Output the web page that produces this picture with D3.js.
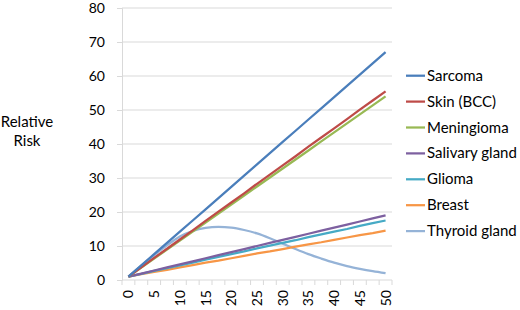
<!DOCTYPE html>
<html>
<head>
<meta charset="utf-8">
<script src="https://cdn.jsdelivr.net/npm/d3@7"></script>
<style>
  body { margin: 0; background: #fff; }
  text { font-family: Lato, "Open Sans", sans-serif; fill: #000; }
</style>
</head>
<body>
<script>
var w = 520;
var h = 310;

// x categories (every 2.5), labels shown every 5
var years = ["0","2.5","5","7.5","10","12.5","15","17.5","20","22.5","25","27.5","30","32.5","35","37.5","40","42.5","45","47.5","50"];
var xLabels = ["0","5","10","15","20","25","30","35","40","45","50"];
var yTicks = [0, 10, 20, 30, 40, 50, 60, 70, 80];

var names = ["Sarcoma", "Skin (BCC)", "Meningioma", "Salivary gland", "Glioma", "Breast", "Thyroid gland"];
var colors = ["#4a7ebb", "#be4b48", "#98b954", "#7d60a0", "#46aac5", "#f79646", "#95b3d7"];

var sarcoma = [1, 4.3, 7.6, 10.9, 14.2, 17.5, 20.8, 24.1, 27.4, 30.7, 34, 37.3, 40.6, 43.9, 47.2, 50.5, 53.8, 57.1, 60.4, 63.7, 67];
var skin = [1, 3.7, 6.5, 9.2, 11.9, 14.6, 17.4, 20.1, 22.8, 25.5, 28.3, 31, 33.7, 36.4, 39.2, 41.9, 44.6, 47.3, 50.1, 52.8, 55.5];
var meningioma = [1, 3.65, 6.3, 8.95, 11.6, 14.25, 16.9, 19.55, 22.2, 24.85, 27.5, 30.15, 32.8, 35.45, 38.1, 40.75, 43.4, 46.05, 48.7, 51.35, 54];
var salivary = [1, 1.9, 2.8, 3.7, 4.6, 5.5, 6.4, 7.3, 8.2, 9.1, 10, 10.9, 11.8, 12.7, 13.6, 14.5, 15.4, 16.3, 17.2, 18.1, 19];
var glioma = [1, 1.8, 2.7, 3.5, 4.3, 5.1, 6, 6.8, 7.6, 8.4, 9.3, 10.1, 10.9, 11.7, 12.6, 13.4, 14.2, 15, 15.9, 16.7, 17.5];
var breast = [1, 1.7, 2.4, 3, 3.7, 4.4, 5.1, 5.7, 6.4, 7.1, 7.8, 8.4, 9.1, 9.8, 10.5, 11.1, 11.8, 12.5, 13.2, 13.8, 14.5];
var thyroid = [1, 4.2, 7.3, 10.2, 12.8, 14.4, 15.3, 15.6, 15.4, 14.7, 13.7, 12.3, 10.7, 9.1, 7.6, 6.3, 5.1, 4.1, 3.3, 2.6, 2.0];

var series = [sarcoma, skin, meningioma, salivary, glioma, breast, thyroid];

var pLeft = 122, pRight = 392, pTop = 8, pBottom = 280;

var svg = d3.select("body").append("svg")
  .attr("width", w)
  .attr("height", h);

var xScale = d3.scaleBand()
  .domain(years)
  .range([pLeft, pRight]);

var yScale = d3.scaleLinear()
  .domain([0, 80])
  .range([pBottom, pTop]);

var cx = function(d) { return xScale(d) + xScale.bandwidth() / 2; };

// gridlines
svg.append("g")
  .selectAll("line")
  .data(yTicks.slice(1))
  .enter().append("line")
    .attr("x1", pLeft)
    .attr("x2", pRight)
    .attr("y1", function(d) { return yScale(d); })
    .attr("y2", function(d) { return yScale(d); })
    .style("stroke", "#d9d9d9")
    .style("stroke-width", 1);

// y axis
var yAxis = d3.axisLeft(yScale)
  .tickValues(yTicks)
  .tickSize(5)
  .tickPadding(12);

var gy = svg.append("g")
  .attr("transform", "translate(" + pLeft + ",0)")
  .call(yAxis);
gy.select(".domain").attr("stroke", "#d9d9d9");
gy.selectAll(".tick line").attr("stroke", "#d9d9d9");
gy.selectAll("text")
  .style("font-size", "14px")
  .style("font-family", "Lato, sans-serif")
  .attr("dy", "0.34em")
  .attr("fill", "#000");

// x axis: ticks on band boundaries, labels at every other band centre
var boundaries = years.map(function(d) { return xScale(d); }).concat([pRight]);
svg.append("g")
  .selectAll("line")
  .data(boundaries)
  .enter().append("line")
    .attr("x1", function(d) { return d; })
    .attr("x2", function(d) { return d; })
    .attr("y1", pBottom)
    .attr("y2", pBottom + 5)
    .style("stroke", "#d9d9d9");

svg.append("line")
  .attr("x1", pLeft)
  .attr("x2", pRight)
  .attr("y1", pBottom)
  .attr("y2", pBottom)
  .style("stroke", "#d9d9d9");

svg.append("g")
  .selectAll("text")
  .data(xLabels)
  .enter().append("text")
    .attr("transform", function(d) { return "translate(" + (cx(d) + 5) + "," + (pBottom + 10) + ") rotate(-90)"; })
    .attr("text-anchor", "end")
    .style("font-size", "14px")
    .text(function(d) { return d; });

// y axis title
var title = svg.append("text")
  .attr("text-anchor", "middle")
  .style("font-size", "15px");
title.append("tspan").attr("x", 27).attr("y", 127).text("Relative");
title.append("tspan").attr("x", 27).attr("y", 146).text("Risk");

// lines
var line = d3.line()
  .x(function(d, i) { return cx(years[i]); })
  .y(function(d) { return yScale(d); });

var thyroidLine = d3.line()
  .x(function(d, i) { return cx(years[i]); })
  .y(function(d) { return yScale(d); })
  .curve(d3.curveMonotoneX);

// draw bottom-up so Sarcoma sits on top like the original
for (var i = series.length - 1; i >= 0; i--) {
  svg.append("path")
    .datum(series[i])
    .attr("fill", "none")
    .attr("stroke", colors[i])
    .attr("stroke-width", 2.25)
    .attr("stroke-linejoin", "round")
    .attr("d", i == 6 ? thyroidLine : line);
}

// legend
var legend = svg.append("g")
  .selectAll("g")
  .data(names)
  .enter().append("g")
    .attr("transform", function(d, i) { return "translate(406," + (75.7 + i * 25.9) + ")"; });

legend.append("line")
  .attr("x1", 0)
  .attr("x2", 19)
  .attr("stroke", function(d, i) { return colors[i]; })
  .attr("stroke-width", 2.25);

legend.append("text")
  .attr("x", 21)
  .attr("y", 5)
  .style("font-size", "15px")
  .text(function(d) { return d; });
</script>
</body>
</html>
